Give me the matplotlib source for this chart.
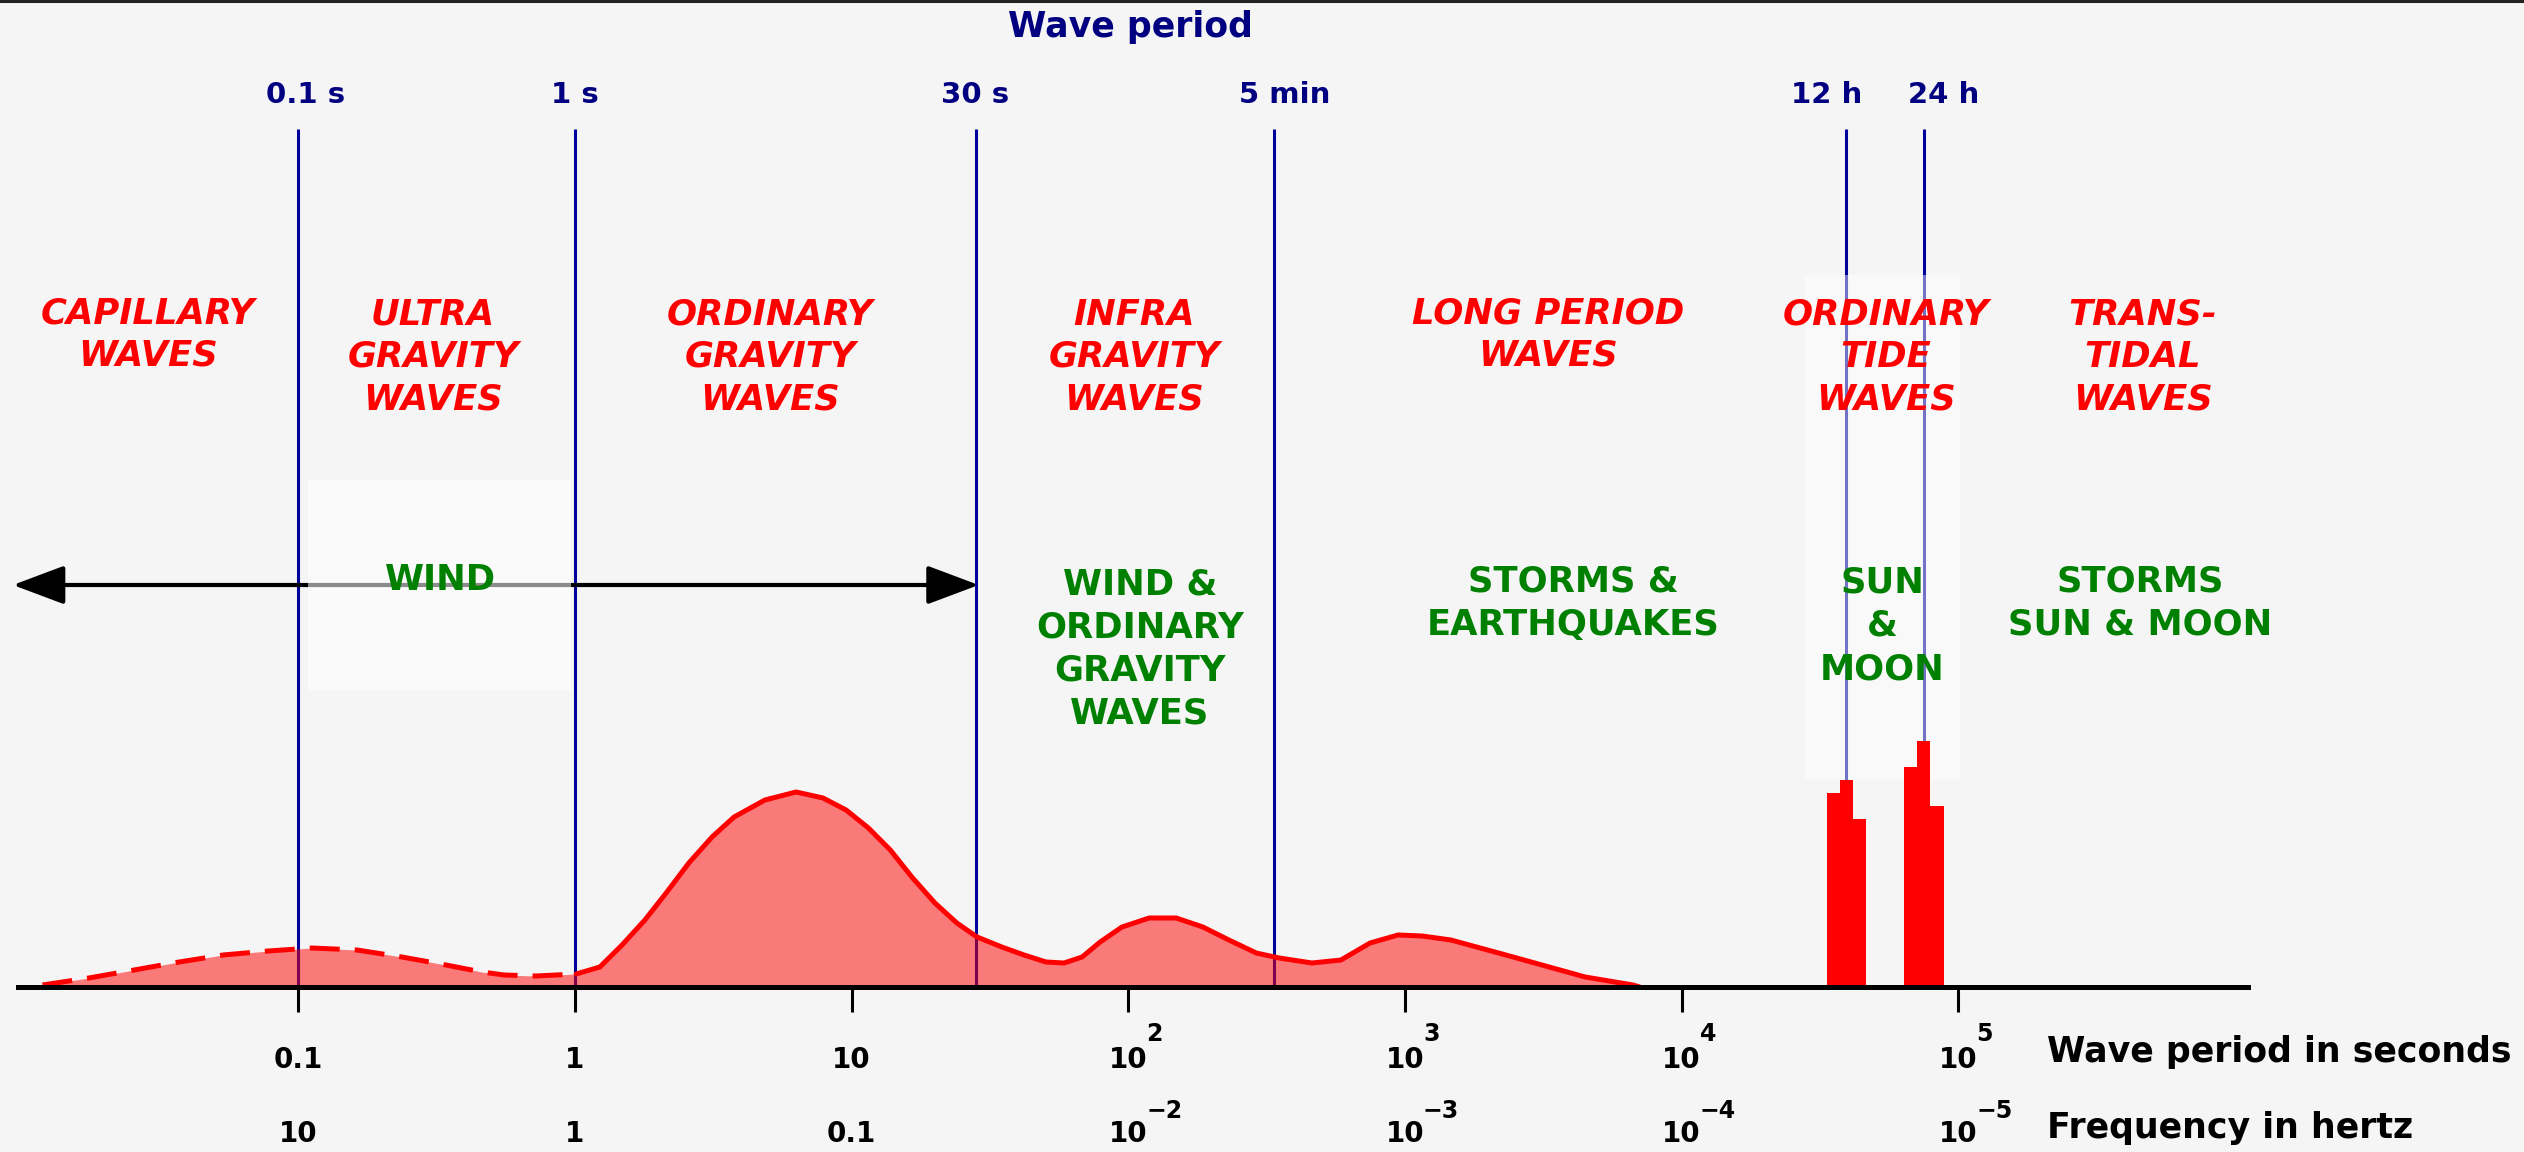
import matplotlib.pyplot as plt
from matplotlib.patches import Rectangle
from matplotlib.lines import Line2D
from matplotlib.ticker import NullLocator
from matplotlib.transforms import offset_copy

W, H = 2524, 1152

# wind waves spectrum (period in s, relative energy)
dash_period = [0.0119, 0.0175, 0.0255, 0.0371, 0.0535, 0.0778, 0.112, 0.163,
               0.237, 0.342, 0.461, 0.555, 0.723, 1.01]
dash_energy = [2, 9, 17, 25, 32, 36, 39, 37, 30, 22, 15, 12, 11, 13]

solid_period = [1.01, 1.23, 1.48, 1.79, 2.15, 2.58, 3.13, 3.76, 4.86, 6.30,
                7.88, 9.55, 11.5, 13.8, 16.5, 20.0, 24.0, 28.4, 34.9, 42.0,
                50.4, 58.6, 68.1, 79.1, 94.9, 119, 149, 186, 231, 290, 351,
                461, 587, 748, 944, 1153, 1466, 2460, 4480, 6670, 7060]
solid_energy = [13, 20, 42, 67, 95, 124, 150, 170, 187, 195,
                189, 177, 159, 137, 110, 84, 64, 50, 40, 32,
                25, 24, 30, 45, 60, 69, 69, 60, 47, 34, 29,
                24, 27, 44, 52, 51, 47, 30, 10, 2, 0]

# tidal peaks
tide_left = [33650, 37330, 41600, 63840, 71150, 78890]
tide_right = [37330, 41600, 46370, 71150, 78890, 88700]
tide_energy = [194, 207, 168, 220, 246, 181]

line_periods = [0.1, 1, 28.2, 336, 39300, 75200]
line_labels = ["0.1 s", "1 s", "30 s", "5 min", "12 h", "24 h"]

tick_periods = [0.1, 1, 10, 100, 1000, 1e4, 1e5]
period_base = ["0.1", "1", "10", "10", "10", "10", "10"]
period_exp = ["", "", "", "2", "3", "4", "5"]
freq_base = ["10", "1", "0.1", "10", "10", "10", "10"]
freq_exp = ["", "", "", "\u22122", "\u22123", "\u22124", "\u22125"]

wind_range = [0.0093, 28.8]

wave_names = ["CAPILLARY\nWAVES", "ULTRA\nGRAVITY\nWAVES", "ORDINARY\nGRAVITY\nWAVES",
              "INFRA\nGRAVITY\nWAVES", "LONG PERIOD\nWAVES", "ORDINARY\nTIDE\nWAVES",
              "TRANS-\nTIDAL\nWAVES"]
forcing_names = ["WIND", "WIND &\nORDINARY\nGRAVITY\nWAVES", "STORMS &\nEARTHQUAKES",
                 "SUN\n&\nMOON", "STORMS\nSUN & MOON"]


def fx(px):
    return px / W


def fy(py):
    return 1 - py / H


NAVY = "#000080"
LINEBLUE = "#00009a"
GREEN = "#008000"

fig = plt.figure(figsize=(W / 100, H / 100), dpi=100, facecolor="#f5f5f5")
ax = fig.add_axes([fx(18), fy(987), fx(2248) - fx(18), fy(129) - fy(987)])
ax.set_facecolor("none")
ax.set_xscale("log")
ax.set_xlim(10 ** -2.013, 10 ** 6.047)
ax.set_ylim(0, 858)

for s in ["top", "left", "right"]:
    ax.spines[s].set_visible(False)
ax.spines["bottom"].set_linewidth(3.6)
ax.spines["bottom"].set_zorder(4)
ax.set_xticks(tick_periods)
ax.xaxis.set_minor_locator(NullLocator())
ax.set_yticks([])
ax.tick_params(axis="x", direction="out", length=18, width=2.2, labelbottom=False)

# vertical period lines
ax.vlines(line_periods, 0, 858, color=LINEBLUE, lw=2.2, zorder=2)

# wind arrow
ax.annotate("", xy=(wind_range[1], 402), xytext=(wind_range[0], 402),
            arrowprops=dict(arrowstyle="<|-|>,head_length=1.6,head_width=0.6",
                            lw=3, color="black", mutation_scale=20,
                            shrinkA=0, shrinkB=0),
            annotation_clip=False, zorder=2)

# soft white glows behind some labels
for x0, x1, y0, y1, a in [(308, 571, 480, 690, 0.55), (1805, 1960, 275, 780, 0.45)]:
    ax.add_patch(Rectangle((fx(x0), fy(y1)), fx(x1) - fx(x0), fy(y0) - fy(y1),
                           transform=fig.transFigure, facecolor="white",
                           edgecolor="none", alpha=a, zorder=2.5, clip_on=False))

# spectrum
all_period = dash_period + solid_period[1:]
all_energy = dash_energy + solid_energy[1:]
ax.fill_between(all_period, 0, all_energy, color="red", alpha=0.5, lw=0, zorder=2.2)
ax.plot(dash_period, dash_energy, color="red", lw=3.6, dashes=(6, 3), zorder=3)
ax.plot(solid_period, solid_energy, color="red", lw=3.6, zorder=3,
        solid_capstyle="round", solid_joinstyle="round")

widths = [r - l for l, r in zip(tide_left, tide_right)]
ax.bar(tide_left, tide_energy, width=widths, align="edge", color="red", lw=0, zorder=3)

# texts
fig.text(fx(1130), fy(27), "Wave period", color=NAVY, fontsize=25, fontweight="bold",
         ha="center", va="center")
for xc, lab in zip([306, 575, 975, 1285, 1827, 1944], line_labels):
    fig.text(fx(xc), fy(95), lab, color=NAVY, fontsize=21, fontweight="bold",
             ha="center", va="center")

for xc, lab in zip([148, 433, 770, 1134, 1548, 1886, 2143], wave_names):
    nl = lab.count("\n") + 1
    fig.text(fx(xc), fy(312 + 45 * (nl - 1) / 2), lab, color="red", fontsize=25.5,
             fontweight="bold", fontstyle="italic", ha="center", va="center",
             multialignment="center", linespacing=1.31)

for xc, lab in zip([441, 1140, 1573, 1882, 2140], forcing_names):
    nl = lab.count("\n") + 1
    fig.text(fx(xc), fy(580 + 46 * (nl - 1) / 2), lab, color=GREEN, fontsize=25.5,
             fontweight="bold", ha="center", va="center",
             multialignment="center", linespacing=1.34)

xt = ax.get_xaxis_transform()
xt_exp = offset_copy(xt, fig=fig, x=18, y=0, units="dots")


def ay(py):
    return (987 - py) / 858


for t, b, e in zip(tick_periods, period_base, period_exp):
    ax.text(t, ay(1060), b, transform=xt, fontsize=20, fontweight="bold",
            ha="center", va="center", clip_on=False)
    if e:
        ax.text(t, ay(1034), e, transform=xt_exp, fontsize=17, fontweight="bold",
                ha="left", va="center", clip_on=False)
for t, b, e in zip(tick_periods, freq_base, freq_exp):
    ax.text(t, ay(1134), b, transform=xt, fontsize=20, fontweight="bold",
            ha="center", va="center", clip_on=False)
    if e:
        ax.text(t, ay(1111), e, transform=xt_exp, fontsize=17, fontweight="bold",
                ha="left", va="center", clip_on=False)

fig.text(fx(2047), fy(1052), "Wave period in seconds", fontsize=25, fontweight="bold",
         ha="left", va="center")
fig.text(fx(2047), fy(1128), "Frequency in hertz", fontsize=25, fontweight="bold",
         ha="left", va="center")

fig.add_artist(Line2D([0, 1], [fy(1), fy(1)], transform=fig.transFigure,
                      color="#222222", lw=2.2))

fig.savefig("out.png", dpi=100, facecolor=fig.get_facecolor())
